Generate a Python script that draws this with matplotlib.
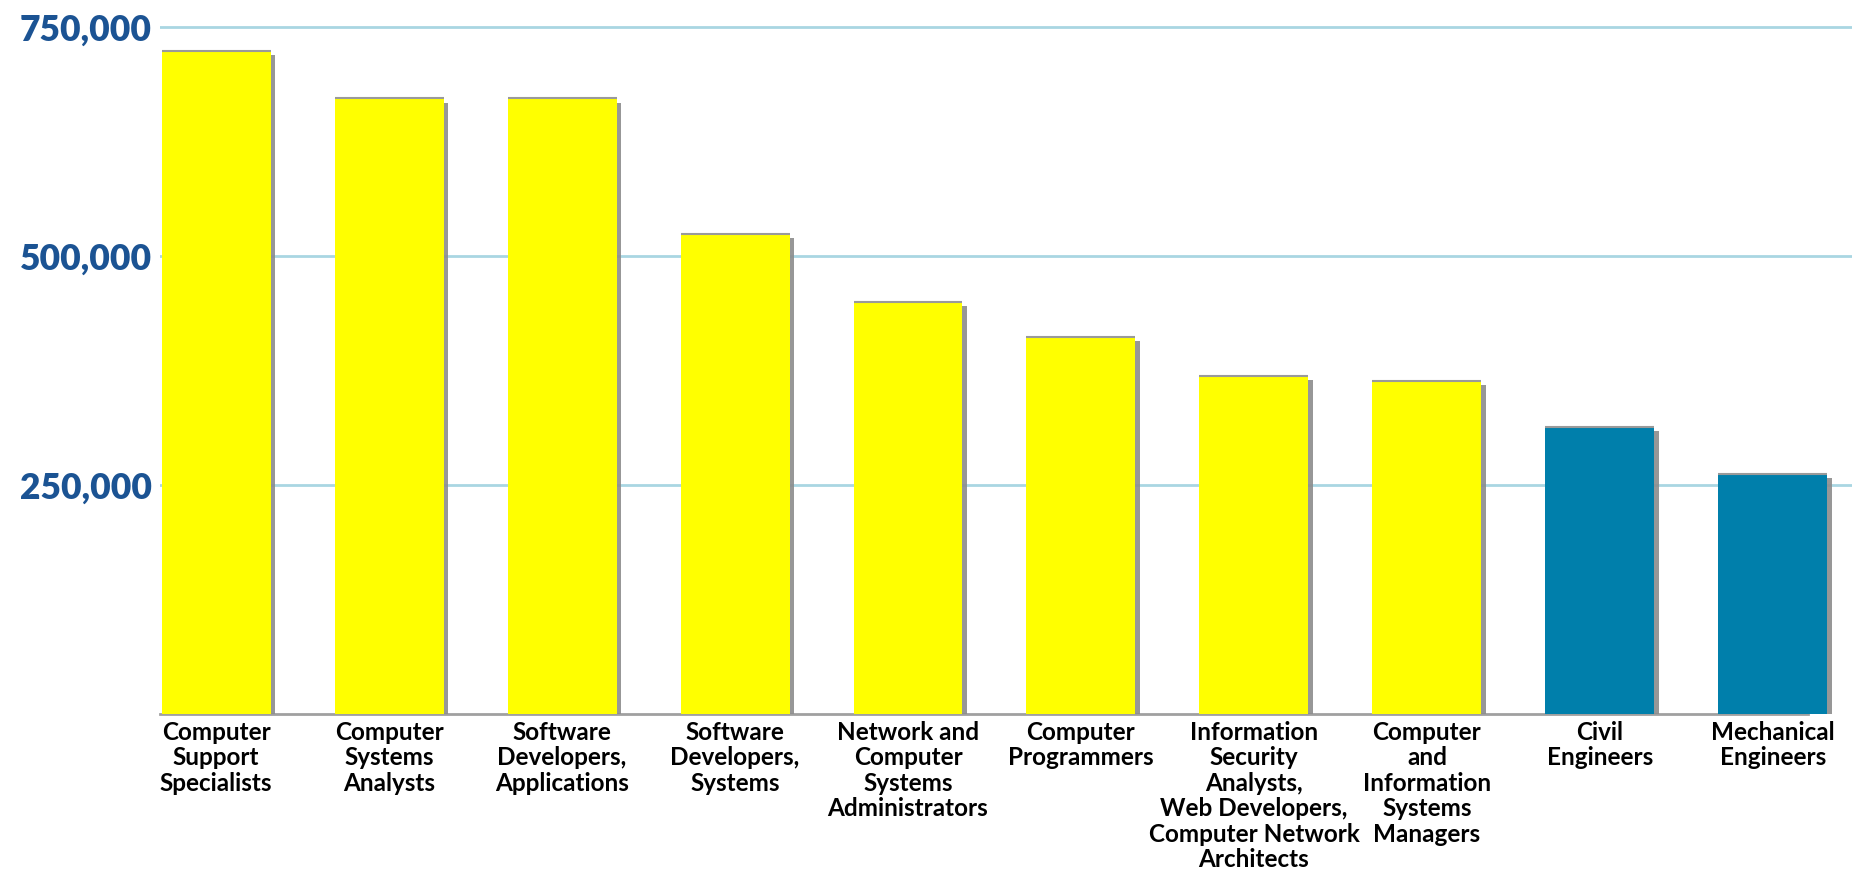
import matplotlib
matplotlib.use('Agg')
import matplotlib.pyplot as plt
import matplotlib.patheffects as pe
from matplotlib.ticker import FuncFormatter

# data
occupations = ['Computer\nSupport\nSpecialists',
               'Computer\nSystems\nAnalysts',
               'Software\nDevelopers,\nApplications',
               'Software\nDevelopers,\nSystems',
               'Network and\nComputer\nSystems\nAdministrators',
               'Computer\nProgrammers',
               'Information\nSecurity\nAnalysts,\nWeb Developers,\nComputer Network\nArchitects',
               'Computer\nand\nInformation\nSystems\nManagers',
               'Civil\nEngineers',
               'Mechanical\nEngineers']
jobs = [724000, 672000, 672000, 524000, 450000, 412000, 369000, 364000, 313000, 262000]
is_computing = [True, True, True, True, True, True, True, True, False, False]
y_ticks = [250000, 500000, 750000]

yellow = '#FFFF00'
teal = '#007FAB'
grid_blue = '#A9D6E2'
label_blue = '#1B5393'

plt.rcParams['font.family'] = ['Lato', 'DejaVu Sans']

fig = plt.figure(figsize=(18.52, 8.74), dpi=100)
ax = fig.add_axes([160 / 1852, 1 - 714 / 874, 1692 / 1852, 714 / 874])

x = list(range(len(jobs)))
colors = [yellow if c else teal for c in is_computing]
bars = ax.bar(x, jobs, width=0.63, color=colors, edgecolor='none', zorder=3)
for b in bars:
    b.set_path_effects([pe.SimplePatchShadow(offset=(3, -3), shadow_rgbFace='#8c8c8c', alpha=0.9),
                        pe.Normal()])
# thin grey top edge like the original
ax.hlines(jobs, [i - 0.315 for i in x], [i + 0.315 for i in x], color='#9a9a9a', lw=1.5, zorder=4)

ax.set_xlim(-0.324, 9.457)
ax.set_ylim(0, 779500)
ax.set_yticks(y_ticks)
ax.yaxis.set_major_formatter(FuncFormatter(lambda v, p: '{:,.0f}'.format(v)))
ax.grid(axis='y', color=grid_blue, lw=2, zorder=0)
ax.set_axisbelow(True)

for s in ['top', 'right', 'left']:
    ax.spines[s].set_visible(False)
ax.spines['bottom'].set_color('#a0a0a0')
ax.spines['bottom'].set_linewidth(2)
ax.spines['bottom'].set_bounds(-0.324, 9.2)

ax.tick_params(axis='y', length=0, pad=6, labelsize=25.5, labelcolor=label_blue)
for t in ax.get_yticklabels():
    t.set_fontweight('heavy')

ax.set_xticks(x)
ax.set_xticklabels(occupations, fontsize=17.5, fontweight='bold', linespacing=1.13)
ax.tick_params(axis='x', length=0, pad=5)

fig.savefig('out.png', dpi=100)
